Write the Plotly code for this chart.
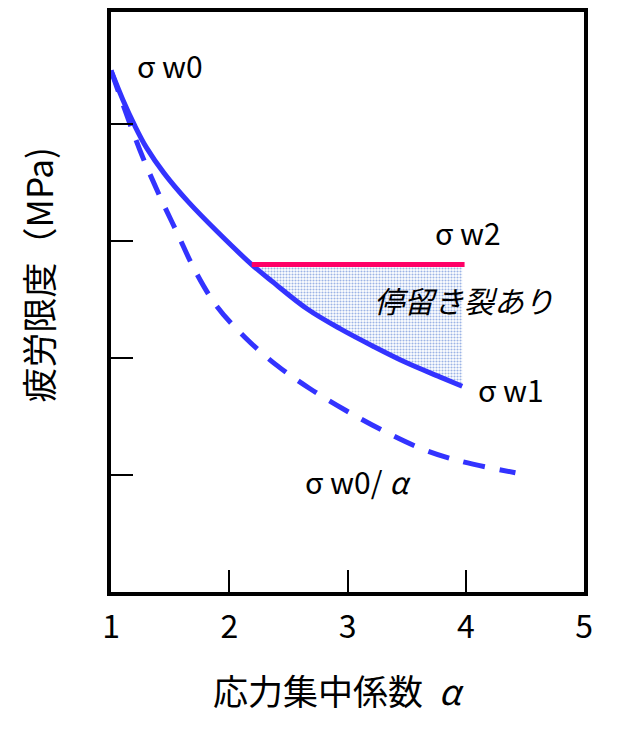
import plotly.graph_objects as go

# 応力集中係数 α と疲労限度（縦軸は目盛数値なし）
sw1_x = [1.00, 1.10, 1.20, 1.30, 1.45, 1.65, 1.90, 2.19, 2.37, 2.66, 2.94, 3.22, 3.50, 3.78, 3.97]
sw1_y = [4.46, 4.21, 3.99, 3.80, 3.58, 3.34, 3.08, 2.80, 2.65, 2.42, 2.25, 2.10, 1.96, 1.84, 1.76]

sw0a_x = [1.00, 1.24, 1.41, 1.56, 1.71, 1.89, 2.13, 2.40, 2.68, 2.99, 3.30, 3.64, 3.95, 4.42]
sw0a_y = [4.46, 3.79, 3.39, 3.07, 2.75, 2.45, 2.18, 1.94, 1.74, 1.55, 1.38, 1.22, 1.12, 1.02]

sw2_x = [2.19, 3.99]
sw2_y = [2.80, 2.80]

x_ticks = [1, 2, 3, 4, 5]
y_ticks = [1, 2, 3, 4]

font = "Noto Sans CJK JP"
blue = "#3333ff"
red = "#ff0066"

# 停留き裂あり の領域 (σw2 と σw1 の間)
fill_x = [x for x in sw1_x if x >= sw2_x[0]]
fill_y = [y for x, y in zip(sw1_x, sw1_y) if x >= sw2_x[0]]
fill_x = fill_x + [fill_x[-1], sw2_x[0]]
fill_y = fill_y + [sw2_y[0], sw2_y[0]]

fig = go.Figure()

fig.add_trace(
    go.Scatter(
        x=fill_x,
        y=fill_y,
        mode="none",
        fill="toself",
        fillcolor="rgba(0,0,0,0)",
        fillpattern=dict(shape=".", fgcolor="#3a6acc", bgcolor="white", size=3, solidity=0.4),
        hoverinfo="skip",
    )
)
fig.add_trace(
    go.Scatter(
        x=sw0a_x,
        y=sw0a_y,
        mode="lines",
        line=dict(color=blue, width=5, dash="22px,15px", shape="spline"),
    )
)
fig.add_trace(
    go.Scatter(
        x=sw1_x,
        y=sw1_y,
        mode="lines",
        line=dict(color=blue, width=5, shape="spline"),
    )
)
fig.add_trace(
    go.Scatter(
        x=sw2_x,
        y=sw2_y,
        mode="lines",
        line=dict(color=red, width=5),
    )
)

labels = [
    ("σ w0", 1.20, 4.51),
    ("σ w2", 3.72, 3.08),
    ("<i>停留き裂あり</i>", 3.21, 2.50),
    ("σ w1", 4.09, 1.74),
    ("σ w0/ <i>α</i>", 2.62, 0.95),
]
for text, x, y in labels:
    fig.add_annotation(
        x=x,
        y=y,
        text=text,
        showarrow=False,
        xanchor="left",
        yanchor="middle",
        font=dict(family=font, size=30, color="black"),
    )

fig.add_annotation(
    x=0.48, y=-0.168, xref="paper", yref="paper",
    xanchor="center", yanchor="middle",
    text="応力集中係数  <i>α</i>", showarrow=False,
    font=dict(family=font, size=35, color="black"),
)
fig.add_annotation(
    x=-0.156, y=0.546, xref="paper", yref="paper",
    xanchor="center", yanchor="middle",
    text="疲労限度（MPa)", showarrow=False, textangle=-90,
    font=dict(family=font, size=35, color="black"),
)

axis_common = dict(
    showline=True,
    linewidth=4,
    linecolor="black",
    mirror=True,
    showgrid=False,
    zeroline=False,
    ticks="inside",
    ticklen=22,
    tickwidth=2,
    tickcolor="black",
)

fig.update_layout(
    width=617,
    height=733,
    margin=dict(l=103, r=41, t=0, b=149),
    paper_bgcolor="white",
    plot_bgcolor="white",
    showlegend=False,
    font=dict(family=font, color="black"),
    xaxis=dict(
        range=[1, 5],
        tickvals=x_ticks,
        ticktext=[str(v) for v in x_ticks],
        tickfont=dict(family=font, size=32),
        ticklabelstandoff=4,
        **axis_common,
    ),
    yaxis=dict(
        range=[0, 4.96],
        tickvals=y_ticks,
        showticklabels=False,
        **axis_common,
    ),
)

fig.write_html("out.html")
